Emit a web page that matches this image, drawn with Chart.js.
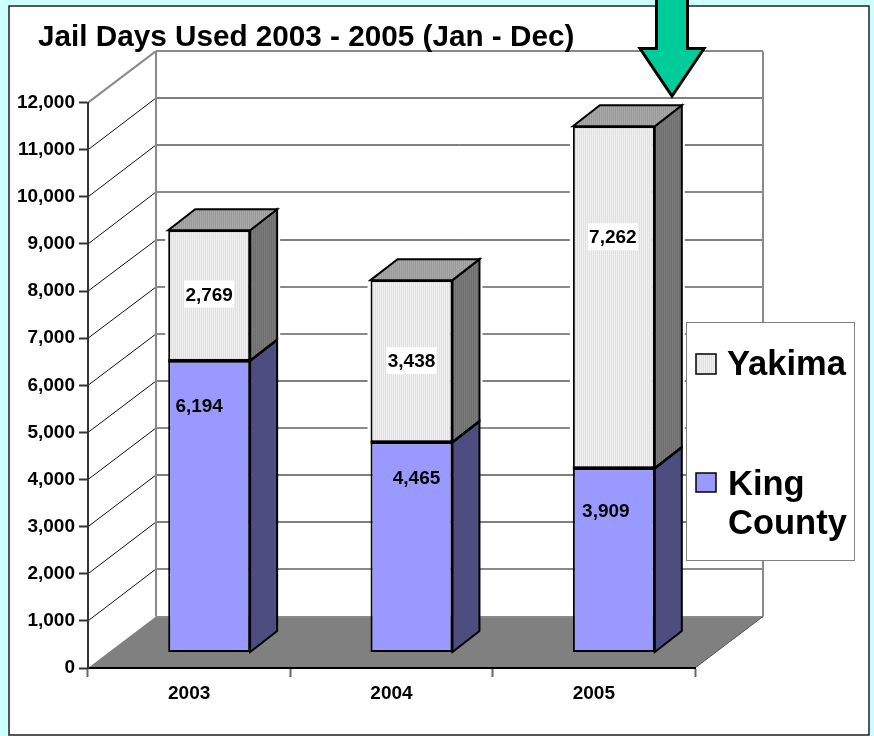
<!DOCTYPE html>
<html>
<head>
<meta charset="utf-8">
<title>Jail Days Used</title>
<script src="https://cdn.jsdelivr.net/npm/chart.js@4"></script>
<style>
  html, body { margin: 0; padding: 0; background: #ccffff; }
  canvas { display: block; }
</style>
</head>
<body>
<div style="width:874px;height:736px"><canvas id="mycanvas" width="874" height="736"></canvas></div>
<script>
const years = ['2003', '2004', '2005'];
const kingCounty = [6194, 4465, 3909];
const yakima = [2769, 3438, 7262];

// the labels were moved by hand in the original, so px shift from segment centre
const kingShift = [[-10, -101], [5, -69], [-8, -49]];
const yakimaShift = [[0, -1], [0, 0], [-1, -60]];

// back wall lines are not all the same weight in the picture
const blackLines = [10000, 8000, 5000, 2000];
const darkLines = [11000, 3000];

const FONT = '"Liberation Sans", Arial, sans-serif';
const wall = { x: 68, y: -51.5 };
const shift = { x: 20, y: -15.5 };
const depth = { x: 27, y: -21 };

// vertical stripes
function stripes(a, b) {
  const c = document.createElement('canvas');
  c.width = 2;
  c.height = 2;
  const g = c.getContext('2d');
  g.fillStyle = a;
  g.fillRect(0, 0, 1, 2);
  g.fillStyle = b;
  g.fillRect(1, 0, 1, 2);
  return g.createPattern(c, 'repeat');
}
const yakimaFront = stripes('#f0f0f0', '#e0e0e0');
const yakimaTop = stripes('#a8a8a8', '#9a9a9a');
const yakimaSide = stripes('#7c7c7c', '#6e6e6e');
const kingFront = '#9999ff';
const kingSide = '#4d4d80';

function poly(ctx, pts, fill, stroke, lw) {
  ctx.beginPath();
  ctx.moveTo(pts[0][0], pts[0][1]);
  for (let i = 1; i < pts.length; i++) ctx.lineTo(pts[i][0], pts[i][1]);
  ctx.closePath();
  if (fill) {
    ctx.fillStyle = fill;
    ctx.fill();
  }
  if (stroke) {
    ctx.strokeStyle = stroke;
    ctx.lineWidth = lw;
    ctx.lineJoin = 'miter';
    ctx.stroke();
  }
}

function line(ctx, x1, y1, x2, y2, color, lw) {
  ctx.beginPath();
  ctx.moveTo(x1, y1);
  ctx.lineTo(x2, y2);
  ctx.strokeStyle = color;
  ctx.lineWidth = lw;
  ctx.stroke();
}

const box3d = {
  id: 'box3d',
  // tick labels hang out past the axis box, don't let them get clipped
  afterLayout(chart) {
    chart.scales.y.left = 0;
  },
  // frame and the walls/floor
  beforeDraw(chart) {
    const { ctx, chartArea: a, scales } = chart;
    const y = scales.y;
    ctx.save();
    ctx.fillStyle = '#ccffff';
    ctx.fillRect(0, 0, 874, 736);
    ctx.fillStyle = '#ffffff';
    ctx.fillRect(9, 6, 860, 729);
    ctx.strokeStyle = '#222222';
    ctx.lineWidth = 1.5;
    ctx.strokeRect(9, 6, 860, 729);

    poly(ctx, [[a.left, a.bottom], [a.left + wall.x, a.bottom + wall.y], [a.right + wall.x, a.bottom + wall.y], [a.right, a.bottom]], '#808080');
    for (let v = 0; v <= 12000; v += 1000) {
      const py = y.getPixelForValue(v);
      const by = Math.round(py + wall.y);
      let color = '#8a8a8a';
      let lw = 2;
      if (blackLines.includes(v)) {
        color = '#000000';
        lw = 1;
      } else if (darkLines.includes(v)) {
        color = '#555555';
        lw = 1.5;
      }
      line(ctx, a.left + wall.x, by, a.right + wall.x, by, color, lw);
      if (v > 0 && v < 12000) line(ctx, a.left, py, a.left + wall.x, by, '#111111', 1);
    }
    line(ctx, a.left, a.top, a.left + wall.x, a.top + wall.y, '#8a8a8a', 2);
    line(ctx, a.left + wall.x, a.top + wall.y, a.left + wall.x, a.bottom + wall.y, '#8a8a8a', 2);
    line(ctx, a.right + wall.x, a.top + wall.y, a.right + wall.x, a.bottom + wall.y, '#8a8a8a', 2);
    line(ctx, a.right, a.bottom, a.right + wall.x, a.bottom + wall.y, '#555555', 1);
    ctx.restore();
  },
  // bars sit a little into the floor, sides go behind the front faces
  beforeDatasetsDraw(chart) {
    const ctx = chart.ctx;
    ctx.save();
    ctx.translate(shift.x, shift.y);
    const king = chart.getDatasetMeta(0).data;
    const yak = chart.getDatasetMeta(1).data;
    king.forEach((el, i) => {
      const k = el.getProps(['x', 'y', 'base', 'width'], false);
      const t = yak[i].getProps(['x', 'y', 'base', 'width'], false);
      const l = k.x - k.width / 2;
      const r = k.x + k.width / 2;
      const dx = depth.x;
      const dy = depth.y;
      // white halo round the grey part
      poly(ctx, [[l, t.base], [l, t.y], [l + dx, t.y + dy], [r + dx, t.y + dy], [r + dx, t.base + dy], [r, t.base]], null, '#ffffff', 6);
      poly(ctx, [[r, k.base], [r + dx, k.base + dy], [r + dx, k.y + dy], [r, k.y]], kingSide, '#000000', 2);
      poly(ctx, [[r, t.base], [r + dx, t.base + dy], [r + dx, t.y + dy], [r, t.y]], yakimaSide, '#000000', 2);
      poly(ctx, [[l, t.y], [l + dx, t.y + dy], [r + dx, t.y + dy], [r, t.y]], yakimaTop, '#000000', 2);
    });
  },
  afterDatasetsDraw(chart) {
    const ctx = chart.ctx;
    // heavier line where the two parts meet
    chart.getDatasetMeta(1).data.forEach(el => {
      const p = el.getProps(['x', 'base', 'width'], false);
      const r = p.x + p.width / 2;
      line(ctx, p.x - p.width / 2, p.base, r, p.base, '#000000', 3);
      line(ctx, r, p.base, r + depth.x, p.base + depth.y, '#000000', 2.5);
    });
    ctx.font = 'bold 19px ' + FONT;
    ctx.textAlign = 'center';
    ctx.textBaseline = 'middle';
    [[0, kingCounty, kingShift, false], [1, yakima, yakimaShift, true]].forEach(([idx, vals, off, boxed]) => {
      chart.getDatasetMeta(idx).data.forEach((el, i) => {
        const p = el.getProps(['x', 'y', 'base'], false);
        const x = p.x + off[i][0];
        const y = (p.y + p.base) / 2 + off[i][1];
        if (boxed) {
          ctx.fillStyle = '#ffffff';
          ctx.fillRect(x - 25, y - 14, 50, 27);
        }
        ctx.fillStyle = '#000000';
        ctx.fillText(vals[i].toLocaleString('en-US'), x, y + 1);
      });
    });
    ctx.restore();
  },
  // legend box and the arrow lie on top of everything
  afterDraw(chart) {
    const ctx = chart.ctx;
    ctx.save();
    ctx.fillStyle = '#ffffff';
    ctx.fillRect(686, 322, 169, 239);
    ctx.strokeStyle = '#808080';
    ctx.lineWidth = 1;
    ctx.strokeRect(686.5, 322.5, 168, 238);

    ctx.font = 'bold 34.5px ' + FONT;
    ctx.textAlign = 'left';
    ctx.textBaseline = 'alphabetic';
    ctx.fillStyle = yakimaFront;
    ctx.fillRect(696, 354, 20, 20);
    ctx.strokeStyle = '#000000';
    ctx.lineWidth = 1.5;
    ctx.strokeRect(696, 354, 20, 20);
    ctx.fillStyle = kingFront;
    ctx.fillRect(696, 473, 20, 19);
    ctx.strokeRect(696, 473, 20, 19);
    ctx.fillStyle = '#000000';
    ctx.fillText(chart.data.datasets[1].label, 727, 375);
    const parts = chart.data.datasets[0].label.split(' ');
    ctx.fillText(parts[0], 728, 495);
    ctx.fillText(parts[1], 728, 534);

    poly(ctx, [[656.5, -4], [687.5, -4], [687.5, 48.5], [704, 48.5], [672, 96], [640, 48.5], [656.5, 48.5]], '#00cc99', '#000000', 3);
    ctx.restore();
  }
};

const ctx = document.querySelector('#mycanvas').getContext('2d');
const myChart = new Chart(ctx, {
  type: 'bar',
  data: {
    labels: years,
    datasets: [
      { label: 'King County', data: kingCounty, backgroundColor: kingFront, borderColor: '#000000', borderWidth: 2, borderSkipped: false, clip: false },
      { label: 'Yakima', data: yakima, backgroundColor: yakimaFront, borderColor: '#000000', borderWidth: 2, borderSkipped: false, clip: false }
    ]
  },
  options: {
    responsive: false,
    animation: false,
    barPercentage: 0.405,
    categoryPercentage: 1,
    layout: { padding: { left: 38, right: 179, top: 0, bottom: 0 } },
    plugins: {
      legend: { display: false },
      tooltip: { enabled: false },
      title: {
        display: true,
        text: 'Jail Days Used 2003 - 2005 (Jan - Dec)',
        align: 'start',
        color: '#000000',
        font: { family: FONT, size: 29.7, weight: 'bold' },
        padding: { top: 20, bottom: 47 }
      }
    },
    scales: {
      x: {
        stacked: true,
        afterFit(s) { s.height = 68; },
        grid: { drawOnChartArea: false, tickLength: 9, tickColor: '#666666', tickWidth: 2 },
        border: { color: '#000000', width: 2 },
        ticks: { color: '#000000', padding: 5, font: { family: FONT, size: 19, weight: 'bold' } }
      },
      y: {
        stacked: true,
        min: 0,
        max: 12000,
        afterFit(s) { s.width = 50; s.paddingTop = 0; },
        grid: { drawOnChartArea: false, tickLength: 9, tickColor: '#333333', tickWidth: 2 },
        border: { color: '#333333', width: 2 },
        ticks: {
          stepSize: 1000,
          autoSkip: false,
          color: '#000000',
          padding: 4,
          font: { family: FONT, size: 19, weight: 'bold' },
          callback: v => v.toLocaleString('en-US')
        }
      }
    }
  },
  plugins: [box3d]
});
</script>
</body>
</html>
